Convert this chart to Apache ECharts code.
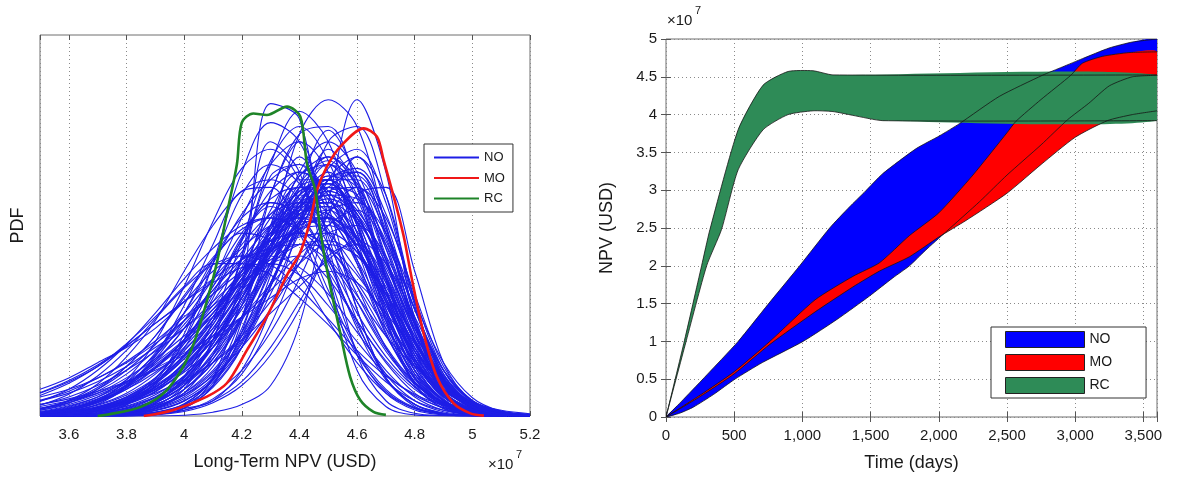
<!DOCTYPE html>
<html>
<head>
<meta charset="utf-8">
<script src="https://cdn.jsdelivr.net/npm/echarts@6/dist/echarts.min.js"></script>
<style>
  html, body { margin: 0; padding: 0; background: #ffffff; }
  #chart { width: 1180px; height: 477px; }
</style>
</head>
<body>
<div id="chart"></div>
<script>
// ---------- Left panel: PDFs of long-term NPV (x in units of 1e7 USD) ----------
const npvGrid = [3.5, 3.6, 3.7, 3.8, 3.9, 4.0, 4.1, 4.2, 4.3, 4.4, 4.5, 4.6, 4.7, 4.8, 4.9, 5.0, 5.1, 5.2];

// NO: one PDF per realisation, sampled on npvGrid
const noCurves = [
  [0,0,0,0,0.3,2,10,33,82,78,38,12,2.5,0.3,0,0,0,0],
  [0,0,0,0,0,0.2,1,3,8,24,56,83,64,25,6,1,0.2,0],
  [0,0,0,0.2,0.6,2,8,22,47,74,83,76,50,22,6,1,0.2,0],
  [0,0,0.3,0.8,2,7,20,42,66,80,72,50,25,8,2,0.4,0,0],
  [0,0.3,1,3,8,20,40,64,77,72,52,28,10,3,0.5,0,0,0],
  [0,0.2,0.6,1,2,6,16,35,58,74,76,60,33,12,3,0.5,0,0],
  [0,0,0,0.3,1,2,4,12,28,50,72,76,58,30,10,2,0.3,0],
  [0.4,1.4,3.9,9.5,19.5,34,51,65,70,62,42,23,9.5,3.1,0.8,0.1,0,0],
  [0.1,0.4,1.4,4,9.7,20,35,52,66,72,64,44,23,9.7,3.2,0.8,0.1,0],
  [0.7,1.9,4.4,8.9,16.5,27,40,53,62,66,58,40,21.5,8.9,2.9,0.7,0.1,0],
  [0,0.1,0.4,1.4,3.8,9.2,19,33,49,63,68,60,41,22,9.2,3,0.7,0.1],
  [0.2,0.7,1.8,4.1,8.4,15.5,25,38,50,59,62,55,38,20,8.4,2.7,0.7,0.1],
  [0.7,1.7,4,8.1,15,25,36,48,57,60,55,44,29,17,8.1,3.4,1.2,0.4],
  [1.8,4.1,8.4,15.5,25,38,50,59,62,57,45,30,17,8.4,3.5,1.2,0.4,0.1],
  [0.1,0.3,0.7,1.9,4.2,8.6,16,26,39,51,60,64,51,26,8.6,1.9,0.3,0],
  [0,0,0,0.1,0.8,3.2,9.7,23,44,64,72,64,44,23,9.7,3.2,0.8,0.1],
  [0,0,0.2,0.8,3.3,10.3,25,46,67,76,67,46,25,10.3,3.3,0.8,0.2,0],
  [3.8,7,12,18.7,27,36,44,50,52,48,38,25,14.5,7,2.9,1,0.3,0],
  [0.9,2,4,7.4,12.7,20,29,38,47,53,55,48.5,33,18,7.4,2.4,0.6,0.1],
  [1.9,3.8,7,12,18.7,27,36,44,50,52,48,38,25,14.5,7,2.9,1,0.3],
  [0.4,1,2.1,4.1,7.6,12.9,20,29,39,48,54,56,48,30,14,4.8,1.2,0.2],
  [4.1,6.5,9.9,14.3,19.7,26,32,38,43.5,47,48,43,32,19,9.2,3.6,1.2,0.3],
  [6.1,9.3,13.4,18.5,24.3,30,36,41,44,45,40.6,30,17.7,8.6,3.4,1.1,0.3,0],
  [2.8,5.7,10.5,17.2,25.5,33.6,39.7,42,39.7,33.6,25.5,17.2,10.5,5.7,2.8,1.2,0.5,0.2],
  [5.4,8.6,13,18.3,24.3,30,35,39,40,37,29,19.5,11,5.4,2.2,0.8,0.2,0],
  [0,0,0.1,0.4,1.4,3.9,9.5,19.5,34,51,65,70,56,29,9.5,2,0.3,0],
  [0,0.1,0.4,1.2,3.4,8.1,16.7,29,44,55,60,53,36,19.5,8.1,2.6,0.7,0.1],
  [0.1,0.4,1.3,3.6,8.6,17.8,31,46.5,59,64,59,46.5,31,17.8,8.6,3.6,1.3,0.4],
  [0,0.1,0.7,2.9,8.9,21.5,40,58,66,61,48,32,18.3,8.9,3.7,1.3,0.4,0.1],
  [0.6,1.6,3.7,7.6,14,23,34,45,53,56,49,34,18,7.6,2.5,0.6,0.1,0],
  [0.2,0.6,1.5,3.4,7,13,21,32,42,49,52,46,32,17,7,2.3,0.6,0.1],
  [0.4,0.9,1.9,3.7,6.8,11.5,18,26,34.5,42.5,48,50,42,25,10.5,3.2,0.7,0.1],
  [1.5,3.4,7,13,21,31.6,41.6,49,52,49,41.6,31.6,21,13,7,3.4,1.5,0.6],
  [0,0,0,0.1,0.7,2.8,8.6,21,39,56,64,51,26,8.6,1.9,0.3,0,0],
  [1.8,3.5,6.5,11,17.3,25,33,41,46,48,44,35,23,13.3,6.5,2.7,1,0.3],
  [0.3,1.1,3.1,7.6,15.6,27,41,52,56,52,41,27,15.6,7.6,3.1,1.1,0.3,0],
  [6,9,13,19,26,34,40,40,37,31,24,16,9,4,1.5,0.5,0,0],
  [7,10,14,18,23,30,38,42,42,39,32,22,12,5,1.5,0.4,0,0],
  [4,6,9,13,18,23,29,35,41,45,44,37,26,14,6,2,0.5,0],
  [2,3.5,6,10,15,21,28,35,40,42,36,25,14,6,2,0.5,0,0],
  [5,7,10,14,19,25,32,40,48,53,52,44,30,16,7,2.5,0.8,0.2],
  [0,0,0,0,0.5,1.5,4,9,18,30,42,45,36,20,8,2.5,0.6,0],
  [0,0.1,0.5,1.5,4,10,22,41,63,66,47,25,10,3,0.7,0.1,0,0],
  [0,0.1,0.4,1.2,3,7,15,29,47,63,66,52,31,13,4,1,0.2,0],
  [0,0,0.2,0.6,1.5,4,9,18,32,48,62,64,48,25,9,2.3,0.4,0],
  [0.5,1.5,3.5,8,16,29,45,59,60,48,31,16,6.5,2,0.5,0.1,0,0],
  [1,2.5,5,9.5,16,24,33,43,53,58,53,40,24,11,4,1,0.2,0],
  [0.5,1.2,2.5,5,9,15,23,33,44,54,58,52,37,20,8,2.5,0.6,0.1],
  [0,0.2,0.5,1.2,2.6,5.5,10.5,18,28,40,53,60,52,32,13,4,0.8,0.1],
  [0,0,0.2,0.8,2.6,8,20,42,72,64,38,17,6,1.6,0.3,0,0,0],
  [0,0,0,0.2,0.8,2.5,7.5,18,37,60,75,62,36,14,4,0.8,0.1,0],
  [0,0,0,0.2,0.8,3,10,26,50,68,55,28,10,2.5,0.5,0,0,0],
  [1.5,3,5.5,9,14,20,27,35,43,49,50,45,34,20,9,3,0.8,0.2],
  [3,5,8,12,17,23,30,37,44,48,44,34,21,10,3.5,1,0.2,0],
  [0.2,0.5,1.2,2.5,5,9,14,21,30,40,50,54,45,28,12,4,1,0.2],
  [0,0,0,0.1,0.4,1.2,3.5,8,16,28,44,58,60,38,14,3.5,0.6,0],
  [2,4,7.5,13,21,31,41,48,46,37,25,14,6,2,0.6,0.1,0,0],
  [0.3,0.8,1.8,3.8,7,12.5,20,31,45,58,62,50,30,13,4.3,1.1,0.2,0],
  [0.2,0.6,1.6,3.6,7.5,14,24,38,54,64,58,41,22,9,2.8,0.7,0.1,0],
  [3,4.5,6.5,9,12,16,20,26,33,40,45,42,32,19,8,2.6,0.6,0.1],
  [0.8,2,4.3,8.3,14.5,23,34,46,56,53,40,24,11,4,1.1,0.2,0,0],
  [0.5,1,2,3.6,6,9.5,14,20,27,34,41,46,40,26,12,4,1,0.2],
  [0,0,0,0.1,0.5,2,8,25,58,72,45,16,4,0.7,0.1,0,0,0],
  [0,0,0.1,0.3,1,3,8,18,34,54,70,60,36,15,4.5,1,0.2,0],
  [0,0,0,0.1,0.5,1.5,4.5,11,24,42,62,68,50,24,8,1.8,0.3,0],
  [0.4,1,2.2,4.4,8,13.5,21,31,42,51,54,46,31,15,5.5,1.5,0.3,0],
  [2.5,4,6,9,12.5,16.5,21,26,31,36,38,35,27,17,8,3,1,0.3],
  [0.3,0.9,2.3,5,10,19,32,47,55,49,33,17,7,2.2,0.5,0.1,0,0],
  [0.2,0.6,1.5,3.2,6.5,12,20,31,44,56,62,50,27,10,2.5,0.5,0,0],
  [0,0,0.1,0.4,1,2.5,6,12,22,36,53,68,58,30,10,2,0.3,0],
  [0,0.1,0.3,1,2.5,6,13,26,44,60,62,48,28,12,3.5,0.8,0.1,0],
  [0.3,0.8,2,4.5,9,16,26,39,52,60,57,44,27,12,4,1,0.2,0],
  [0,0.2,0.6,1.6,3.8,8,15,26,40,54,63,60,45,24,9,2.5,0.5,0],
  [0.5,1.3,3,6,11,18,27,38,48,54,53,44,30,15,6,1.8,0.4,0],
  [0,0,0.2,0.7,2,5,11,22,38,55,66,61,42,20,6.5,1.5,0.2,0],
  [0.2,0.6,1.5,3.3,7,13,22,34,47,56,56,46,30,14,5,1.3,0.2,0],
  [0,0.1,0.4,1.2,3,7,14,25,39,52,60,58,44,24,9,2.5,0.5,0.1],
  [0.8,2,4,7.5,12.5,19,27,36,45,51,51,43,29,14,5,1.3,0.2,0],
  [0,0.1,0.5,1.5,4,9,18,31,47,61,67,58,37,17,5.5,1.3,0.2,0],
  [0.3,0.9,2.2,4.7,9,16,25,36,47,55,58,53,40,23,9.5,3,0.7,0.1],
  [0,0.2,0.8,2.2,5,10.5,19,31,45,57,61,53,35,17,6,1.5,0.3,0],
  [1,2.3,4.5,8,13,20,28,37,46,52,52,44,30,15,5.5,1.5,0.3,0],
  [0,0,0.2,0.6,1.8,4.5,10,20,35,51,63,63,49,28,11,3,0.6,0.1],
  [0.2,0.5,1.3,3,6.3,12,20,31,43,53,57,52,38,21,8,2.3,0.5,0.1],
  [0,0.1,0.5,1.6,4.2,9.5,19,33,50,62,62,48,28,11,3.2,0.7,0.1,0],
  [0.5,1.2,2.8,5.5,10,17,26,37,48,56,59,54,41,24,10,3.2,0.8,0.1],
  [0,0.1,0.3,1,2.6,6,12,22,35,49,59,60,48,28,11,3,0.6,0.1],
  [0.6,1.6,3.5,7,12.5,20,30,41,50,55,52,41,26,12,4,1,0.2,0],
  [0,0,0.1,0.5,1.5,4,9.5,19,34,50,62,62,47,25,9,2.2,0.4,0],
  [0.2,0.6,1.6,3.6,7.5,14,23,35,48,58,61,53,36,18,6.5,1.7,0.3,0],
  [0,0.2,0.7,2,4.8,10,18,30,43,53,56,51,39,23,10,3.2,0.8,0.1],
  [1.2,2.7,5,8.6,13.5,19.5,26,33,40,45,46,42,33,21,10.5,4,1.2,0.3],
  [0,0.1,0.4,1.3,3.5,8,16,29,45,60,66,57,36,16,5,1.1,0.2,0],
  [0.4,1,2.4,5,9.5,16,25,36,47,54,55,47,32,16,6,1.6,0.3,0],
  [0,0.1,0.3,0.9,2.3,5.5,11.5,21,35,50,62,65,53,31,12,3.3,0.6,0.1],
  [0.3,0.8,2,4.3,8.5,15,24,36,49,59,61,51,33,15,5,1.2,0.2,0],
  [0.1,0.4,1.1,2.6,5.6,10.5,18,28,40,51,58,57,46,28,12,3.7,0.9,0.1],
  [0.8,1.9,3.8,7,11.5,17.5,25,34,43,50,52,47,35,20,8,2.3,0.5,0.1],
  [0,0.1,0.4,1.2,3,7,14,26,42,58,68,62,41,19,6,1.3,0.2,0],
  [0.2,0.7,1.7,3.8,7.6,13.5,22,33,45,55,59,54,40,22,8.5,2.5,0.5,0.1]
];

// MO and RC PDFs
const moNPV = [3.86,3.963,4.079,4.148,4.218,4.287,4.357,4.403,4.438,4.461,4.495,4.542,4.623,4.669,4.692,4.727,4.762,4.79,4.831,4.877,4.935,4.993,5.04];
const moPDF = [0,1.6,5.1,8.6,17.3,26.1,37,43,51.4,59.3,65.4,70.7,75.5,73.3,67.2,57.6,47.1,36,21.7,10.3,3.3,0.7,0.1];
const rcNPV = [3.70,3.73,3.85,3.94,4.02,4.08,4.113,4.148,4.183,4.20,4.24,4.287,4.357,4.403,4.426,4.455,4.472,4.50,4.542,4.576,4.611,4.657,4.70];
const rcPDF = [0,0.3,2.4,6.8,16.5,30.4,40,53,66,77,79.4,79,81.2,78.6,66.3,59.3,48.8,36.6,21.7,10.3,4.2,1.1,0.3];

// ---------- Right panel: NPV envelopes over time (NPV in units of 1e7 USD) ----------
const noUpDays  = [0,110,280,529,748,980,1200,1346,1453,1590,1834,2006,2151,2443,2760,2906,3053,3248,3419,3600];
const noUpNPV   = [0,0.2,0.52,1.0,1.49,2.0,2.5,2.78,2.97,3.22,3.55,3.72,3.88,4.24,4.52,4.63,4.74,4.88,4.96,5.0];
const noLowDays = [0,100,200,350,505,706,1005,1261,1492,1663,1785,1900,2053,2300,2500,2750,2943,3100,3250,3419,3600];
const noLowNPV  = [0,0.05,0.13,0.3,0.5,0.72,1.0,1.3,1.6,1.84,2.0,2.2,2.45,2.85,3.2,3.6,3.93,4.15,4.38,4.5,4.52];

const moUpDays  = [0,250,500,761,1093,1370,1565,1785,2000,2250,2500,2565,2750,2968,3053,3199,3394,3600];
const moUpNPV   = [0,0.29,0.6,1.0,1.55,1.86,2.04,2.40,2.70,3.20,3.76,3.91,4.2,4.52,4.68,4.77,4.82,4.83];
const moLowDays = [0,250,500,761,1093,1370,1565,1785,2000,2200,2500,2750,3000,3236,3419,3600];
const moLowNPV  = [0,0.27,0.57,0.96,1.39,1.72,1.93,2.12,2.38,2.60,2.96,3.34,3.70,3.92,4.0,4.05];

const rcUpDays  = [0,130,261,322,529,712,895,1078,1224,3600];
const rcUpNPV   = [0,0.97,2.0,2.48,3.80,4.39,4.57,4.58,4.525,4.525];
const rcLowDays = [0,140,298,407,529,712,895,1078,1224,1370,1590,3600];
const rcLowNPV  = [0,0.95,2.0,2.48,3.27,3.80,4.0,4.05,4.04,3.99,3.92,3.92];

const timeTicks = [0, 500, 1000, 1500, 2000, 2500, 3000, 3500];

// ---------- styling ----------
const FONT = '"Liberation Sans", Arial, Helvetica, sans-serif';
const TXT = '#1a1a1a';
const GRIDLINE = { show: true, lineStyle: { color: '#8a8a8a', width: 1, type: [1, 3] } };
const TICK_IN = { show: true, inside: true, length: 5, lineStyle: { color: '#555', width: 1 } };
const COL_NO_LINE = '#1e1ee6';
const COL_NO = '#0000ff', COL_MO = '#ff0000', COL_RC = '#2e8b57';

const pairs = (xs, ys) => xs.map((x, i) => [x, ys[i]]);

const series = [];

noCurves.forEach(c => {
  series.push({
    type: 'line', name: 'NO', xAxisIndex: 0, yAxisIndex: 0,
    data: pairs(npvGrid, c), smooth: 0.35, symbol: 'none', silent: true, z: 2,
    lineStyle: { color: COL_NO_LINE, width: 1.1 }, itemStyle: { color: COL_NO_LINE }
  });
});
series.push({
  type: 'line', name: 'MO', xAxisIndex: 0, yAxisIndex: 0,
  data: pairs(moNPV, moPDF), smooth: 0.3, symbol: 'none', silent: true, z: 3,
  lineStyle: { color: '#f01818', width: 2.6 }, itemStyle: { color: '#f01818' }
});
series.push({
  type: 'line', name: 'RC', xAxisIndex: 0, yAxisIndex: 0,
  data: pairs(rcNPV, rcPDF), smooth: 0.3, symbol: 'none', silent: true, z: 3,
  lineStyle: { color: '#1e8428', width: 2.6 }, itemStyle: { color: '#1e8428' }
});

// filled envelope between an upper and a lower boundary
function bandSeries(name, upper, lower, color, z) {
  const outline = upper.concat(lower.slice(1).reverse());
  return {
    type: 'custom', name, xAxisIndex: 2, yAxisIndex: 1, clip: true, silent: true, z,
    itemStyle: { color },
    data: upper,
    renderItem(params, api) {
      if (params.dataIndex !== 0) return null;
      return {
        type: 'polygon',
        shape: { points: outline.map(p => api.coord(p)), smooth: 0.2 },
        style: { fill: color, stroke: null }
      };
    }
  };
}
// thin dark boundary lines, drawn above every fill
function edgeSeries(name, line) {
  return {
    type: 'custom', name, xAxisIndex: 2, yAxisIndex: 1, clip: true, silent: true, z: 6,
    data: line,
    renderItem(params, api) {
      if (params.dataIndex !== 0) return null;
      return {
        type: 'polyline',
        shape: { points: line.map(p => api.coord(p)), smooth: 0.2 },
        style: { stroke: '#151515', lineWidth: 0.8, fill: null }
      };
    }
  };
}

const noUp = pairs(noUpDays, noUpNPV), noLow = pairs(noLowDays, noLowNPV);
const moUp = pairs(moUpDays, moUpNPV), moLow = pairs(moLowDays, moLowNPV);
const rcUp = pairs(rcUpDays, rcUpNPV), rcLow = pairs(rcLowDays, rcLowNPV);

series.push(bandSeries('NO', noUp, noLow, COL_NO, 3));
series.push(bandSeries('MO', moUp, moLow, COL_MO, 4));
series.push(bandSeries('RC', rcUp, rcLow, COL_RC, 5));
[['no-up', noUp], ['no-low', noLow], ['mo-up', moUp], ['mo-low', moLow],
 ['rc-up', rcUp], ['rc-low', rcLow]].forEach(([n, l]) => series.push(edgeSeries(n, l)));

const option = {
  animation: false,
  backgroundColor: '#ffffff',
  textStyle: { fontFamily: FONT, color: TXT },
  grid: [
    { left: 40, top: 35, width: 490, height: 381, show: true, borderColor: '#6e6e6e', borderWidth: 1, backgroundColor: '#fff' },
    { left: 666, top: 39, width: 491, height: 379, show: true, borderColor: '#6e6e6e', borderWidth: 1, backgroundColor: '#fff' }
  ],
  xAxis: [
    {
      gridIndex: 0, type: 'value', min: 3.5, max: 5.2, splitNumber: 8,
      axisLine: { show: false }, axisTick: TICK_IN, splitLine: GRIDLINE,
      axisLabel: {
        fontSize: 15, color: TXT, fontFamily: FONT, margin: 11,
        formatter: v => (v < 3.55 ? '' : String(Math.round(v * 10) / 10))
      },
      name: 'Long-Term NPV (USD)', nameLocation: 'middle', nameGap: 37,
      nameTextStyle: { fontSize: 18, color: TXT, fontFamily: FONT }
    },
    {
      gridIndex: 0, type: 'value', min: 3.5, max: 5.2, splitNumber: 8, position: 'top',
      axisLine: { show: false }, axisTick: TICK_IN, axisLabel: { show: false }, splitLine: { show: false }
    },
    {
      gridIndex: 1, type: 'value', min: 0, max: 3600, interval: 500,
      axisLine: { show: false }, axisTick: TICK_IN, splitLine: GRIDLINE,
      axisLabel: {
        fontSize: 15, color: TXT, fontFamily: FONT, margin: 11,
        formatter: v => (timeTicks.indexOf(v) < 0 ? '' : v.toLocaleString('en-US'))
      },
      name: 'Time (days)', nameLocation: 'middle', nameGap: 37,
      nameTextStyle: { fontSize: 18, color: TXT, fontFamily: FONT }
    },
    {
      gridIndex: 1, type: 'value', min: 0, max: 3600, interval: 500, position: 'top',
      axisLine: { show: false }, axisTick: TICK_IN, axisLabel: { show: false }, splitLine: { show: false }
    }
  ],
  yAxis: [
    {
      gridIndex: 0, type: 'value', min: 0, max: 100,
      axisLine: { show: false }, axisTick: { show: false }, axisLabel: { show: false }, splitLine: { show: false },
      name: 'PDF', nameLocation: 'middle', nameGap: 13, nameRotate: 90,
      nameTextStyle: { fontSize: 18, color: TXT, fontFamily: FONT }
    },
    {
      gridIndex: 1, type: 'value', min: 0, max: 5, interval: 0.5,
      axisLine: { show: false }, axisTick: TICK_IN, splitLine: GRIDLINE,
      axisLabel: { fontSize: 15, color: TXT, fontFamily: FONT, margin: 9 },
      name: 'NPV (USD)', nameLocation: 'middle', nameGap: 50, nameRotate: 90,
      nameTextStyle: { fontSize: 18, color: TXT, fontFamily: FONT }
    },
    {
      gridIndex: 1, type: 'value', min: 0, max: 5, interval: 0.5, position: 'right',
      axisLine: { show: false }, axisTick: TICK_IN, axisLabel: { show: false }, splitLine: { show: false }
    }
  ],
  legend: [
    {
      orient: 'vertical', left: 424, top: 144, selectedMode: false,
      data: ['NO', 'MO', 'RC'],
      itemWidth: 45, itemHeight: 14, itemGap: 7.5, padding: [7, 8, 7, 9],
      itemStyle: { opacity: 0 },
      borderColor: '#333', borderWidth: 1, backgroundColor: '#fff',
      textStyle: { fontSize: 13, color: TXT, fontFamily: FONT }
    },
    {
      orient: 'vertical', left: 991, top: 327, selectedMode: false,
      data: [
        { name: 'NO', icon: 'rect', itemStyle: { color: COL_NO, borderColor: '#222', borderWidth: 1, opacity: 1 } },
        { name: 'MO', icon: 'rect', itemStyle: { color: COL_MO, borderColor: '#222', borderWidth: 1, opacity: 1 } },
        { name: 'RC', icon: 'rect', itemStyle: { color: COL_RC, borderColor: '#222', borderWidth: 1, opacity: 1 } }
      ],
      itemWidth: 79, itemHeight: 16, itemGap: 6, padding: [4, 34, 4, 14],
      borderColor: '#333', borderWidth: 1, backgroundColor: '#fff',
      textStyle: { fontSize: 14, color: TXT, fontFamily: FONT }
    }
  ],
  graphic: [
    { type: 'text', left: 488, top: 457, style: { text: '×10', fontSize: 15, fill: TXT, fontFamily: FONT } },
    { type: 'text', left: 516, top: 449, style: { text: '7', fontSize: 11, fill: TXT, fontFamily: FONT } },
    { type: 'text', left: 667, top: 13, style: { text: '×10', fontSize: 15, fill: TXT, fontFamily: FONT } },
    { type: 'text', left: 695, top: 5, style: { text: '7', fontSize: 11, fill: TXT, fontFamily: FONT } }
  ],
  series
};

const chart = echarts.init(document.getElementById('chart'), null, { renderer: 'canvas' });
chart.setOption(option);
</script>
</body>
</html>
